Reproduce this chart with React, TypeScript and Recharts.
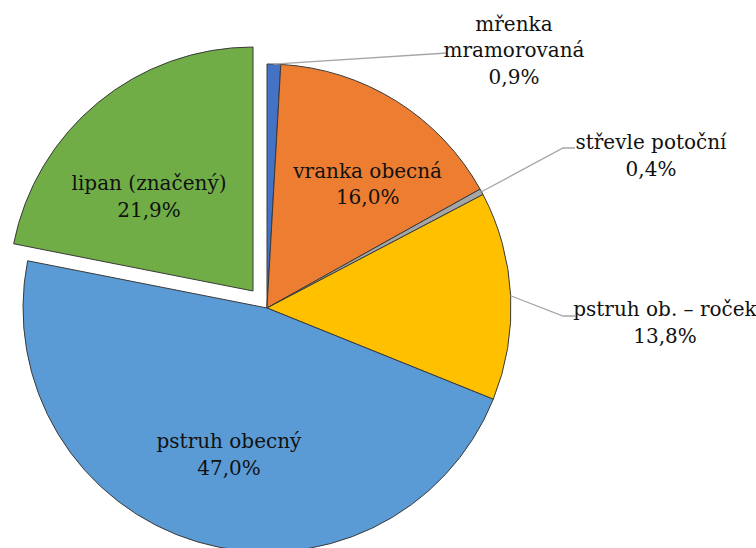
import { Cell, Pie, PieChart } from 'recharts'

const SPECIES = [
  'mřenka mramorovaná',
  'vranka obecná',
  'střevle potoční',
  'pstruh ob. – roček',
  'pstruh obecný',
  'lipan (značený)',
]
const SHARES = [0.9, 16.0, 0.4, 13.8, 47.0, 21.9]
const LABEL_LINES = [
  ['mřenka', 'mramorovaná'],
  ['vranka obecná'],
  ['střevle potoční'],
  ['pstruh ob. – roček'],
  ['pstruh obecný'],
  ['lipan (značený)'],
]
const EXPLODED = 5

const COLORS = ['#4472C4', '#ED7D31', '#A5A5A5', '#FFC000', '#5B9BD5', '#70AD47']

const data = SPECIES.map((name, i) => ({ name, value: SHARES[i] }))

const W = 756
const H = 548
const CX = 267
const CY = 308
const R = 244
const EXPLODE = 22
const START = 90
const END = -270
const FONT = 'DejaVu Serif'
const FONT_SIZE = 20
const LH = 26.5

// where each label sits: inside (angle/radius tweak) or outside with leader line (offsets from centre)
type Layout =
  | { kind: 'in'; r: number; da: number }
  | { kind: 'out'; path: [number, number][]; tx: number; ty: number }

const LAYOUT: Layout[] = [
  { kind: 'out', path: [[180, -255]], tx: 247, ty: -258 },
  { kind: 'in', r: 0.655, da: -7 },
  { kind: 'out', path: [[296, -160], [308, -160]], tx: 384, ty: -152.5 },
  { kind: 'out', path: [[296, 8], [308, 8]], tx: 398, ty: 14.5 },
  { kind: 'in', r: 0.62, da: 2 },
  { kind: 'in', r: 0.576, da: 8.3 },
]

const total = SHARES.reduce((a, b) => a + b, 0)
const before = SHARES.slice(0, EXPLODED).reduce((a, b) => a + b, 0)
const explodeMid =
  START + ((END - START) * (before + SHARES[EXPLODED] / 2)) / total
const RAD = Math.PI / 180
const ECX = CX + EXPLODE * Math.cos(explodeMid * RAD)
const ECY = CY - EXPLODE * Math.sin(explodeMid * RAD)

const fmt = (v: number) => v.toFixed(1).replace('.', ',') + '%'

function TextBlock({ x, y, lines }: { x: number; y: number; lines: string[] }) {
  const y0 = y - ((lines.length - 1) * LH) / 2
  return (
    <text
      x={x}
      y={y0}
      textAnchor="middle"
      dominantBaseline="central"
      fontFamily={FONT}
      fontSize={FONT_SIZE}
      fill="#111"
    >
      {lines.map((l, i) => (
        <tspan key={i} x={x} y={y0 + i * LH}>
          {l}
        </tspan>
      ))}
    </text>
  )
}

function renderLabel(props: any) {
  const { cx, cy, midAngle, outerRadius, index, value } = props
  const lay = LAYOUT[index]
  const lines = [...LABEL_LINES[index], fmt(value)]
  let ox = cx
  let oy = cy
  if (index === EXPLODED) {
    ox = ECX
    oy = ECY
  }
  if (lay.kind === 'in') {
    const a = (midAngle + lay.da) * RAD
    const rr = outerRadius * lay.r
    return (
      <TextBlock
        key={index}
        x={ox + rr * Math.cos(a)}
        y={oy - rr * Math.sin(a)}
        lines={lines}
      />
    )
  }
  const a = midAngle * RAD
  const sx = ox + outerRadius * Math.cos(a)
  const sy = oy - outerRadius * Math.sin(a)
  const pts = [[sx, sy], ...lay.path.map(([dx, dy]) => [ox + dx, oy + dy])]
  return (
    <g key={index}>
      <polyline
        points={pts.map((p) => p.join(',')).join(' ')}
        fill="none"
        stroke="#A6A6A6"
        strokeWidth={1.3}
      />
      <TextBlock x={ox + lay.tx} y={oy + lay.ty} lines={lines} />
    </g>
  )
}

export default function App() {
  return (
    <div style={{ position: 'absolute', left: 0, top: 0, width: W, height: H, background: '#fff' }}>
      <PieChart width={W} height={H} margin={{ top: 0, right: 0, bottom: 0, left: 0 }}>
        <Pie
          data={data}
          dataKey="value"
          nameKey="name"
          cx={ECX}
          cy={ECY}
          outerRadius={R}
          startAngle={START}
          endAngle={END}
          stroke="none"
          label={false}
          labelLine={false}
          isAnimationActive={false}
        >
          {data.map((_, i) => (
            <Cell
              key={i}
              fill={i === EXPLODED ? COLORS[i] : 'none'}
              stroke={i === EXPLODED ? '#3a3a3a' : 'none'}
              strokeWidth={1}
            />
          ))}
        </Pie>
        <Pie
          data={data}
          dataKey="value"
          nameKey="name"
          cx={CX}
          cy={CY}
          outerRadius={R}
          startAngle={START}
          endAngle={END}
          label={renderLabel}
          labelLine={false}
          isAnimationActive={false}
        >
          {data.map((_, i) => (
            <Cell
              key={i}
              fill={i === EXPLODED ? 'none' : COLORS[i]}
              stroke={i === EXPLODED ? 'none' : '#3a3a3a'}
              strokeWidth={1}
            />
          ))}
        </Pie>
      </PieChart>
    </div>
  )
}
